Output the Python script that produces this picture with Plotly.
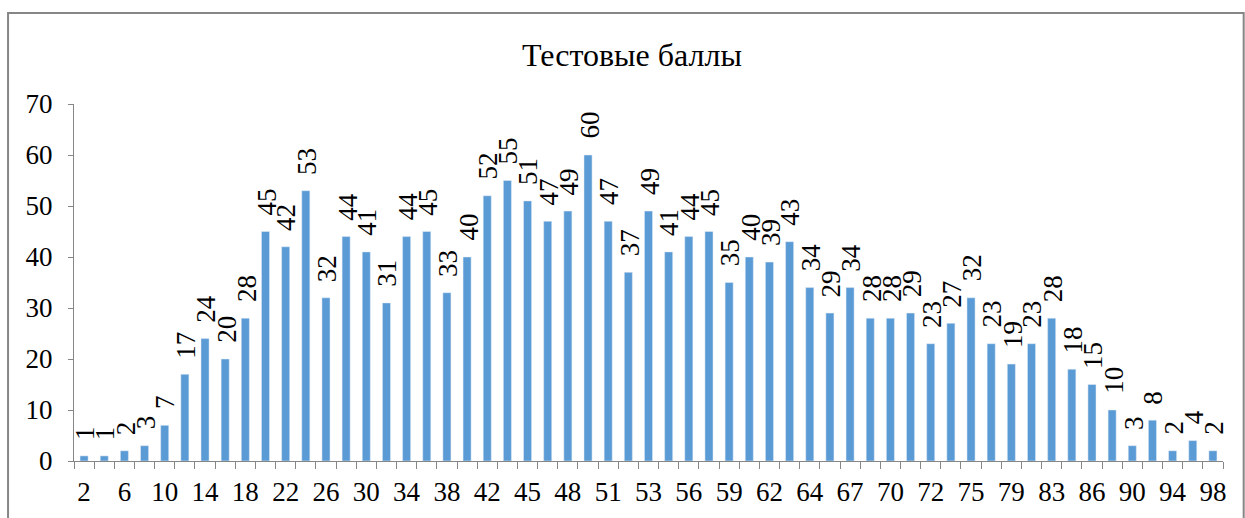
import plotly.graph_objects as go

categories = [str(v) for v in [2, 4, 6, 8, 10, 12, 14, 16, 18, 20, 22, 24, 26, 28, 30, 32, 34, 36, 38, 40,
                               42, 44, 45, 47, 48, 49, 51, 52, 53, 55, 56, 58, 59, 61, 62, 63, 64, 66, 67, 69,
                               70, 71, 72, 74, 75, 77, 79, 81, 83, 85, 86, 88, 90, 92, 94, 96, 98]]
values = [1, 1, 2, 3, 7, 17, 24, 20, 28, 45, 42, 53, 32, 44, 41, 31, 44, 45, 33, 40,
          52, 55, 51, 47, 49, 60, 47, 37, 49, 41, 44, 45, 35, 40, 39, 43, 34, 29, 34, 28,
          28, 29, 23, 27, 32, 23, 19, 23, 28, 18, 15, 10, 3, 8, 2, 4, 2]
tick_text = [c if i % 2 == 0 else "" for i, c in enumerate(categories)]
title = "Тестовые баллы"

FONT = "Times New Roman, serif"
GREY = "#868686"
FS = 27

fig = go.Figure(go.Bar(
    x=categories, y=values, marker_color="#5B9BD5", cliponaxis=False,
))

# on a category axis, annotation x is the category's position index
annotations = [dict(x=i, y=v, xref="x", yref="y", text=str(v), showarrow=False,
                    textangle=-90, yanchor="bottom", xanchor="center", yshift=14, xshift=1,
                    font=dict(family=FONT, size=FS, color="black"))
               for i, v in enumerate(values)]

fig.update_layout(
    width=1245, height=518,
    margin=dict(l=74, r=22, t=104, b=57),
    paper_bgcolor="white", plot_bgcolor="white",
    bargap=0.6, showlegend=False,
    title=dict(text=title, x=0.5076, xanchor="center", y=0.895, yanchor="middle",
               font=dict(family=FONT, size=32, color="black")),
    font=dict(family=FONT, size=FS, color="black"),
    xaxis=dict(type="category", tickmode="array", tickvals=categories, ticktext=tick_text,
               range=[-0.5, len(categories) - 0.5],
               tickangle=0, tickson="boundaries", ticks="outside", ticklen=7, tickcolor=GREY,
               ticklabelstandoff=7,
               showline=True, linecolor=GREY, linewidth=1, showgrid=False,
               tickfont=dict(family=FONT, size=FS, color="black")),
    yaxis=dict(range=[0, 70], dtick=10, ticks="outside", ticklen=5, tickcolor=GREY,
               ticklabelstandoff=10,
               showline=True, linecolor=GREY, linewidth=1, showgrid=False, zeroline=False,
               tickfont=dict(family=FONT, size=FS, color="black")),
    annotations=annotations,
    shapes=[dict(type="rect", xref="paper", yref="paper",
                 x0=-0.0574, x1=1.018, y0=-0.2, y1=1.255,
                 line=dict(color=GREY, width=2), fillcolor="rgba(0,0,0,0)", layer="below")],
)

fig.write_html("out.html", config={"displayModeBar": False},
               post_script="document.body.style.margin='0';document.body.style.overflow='hidden';")
